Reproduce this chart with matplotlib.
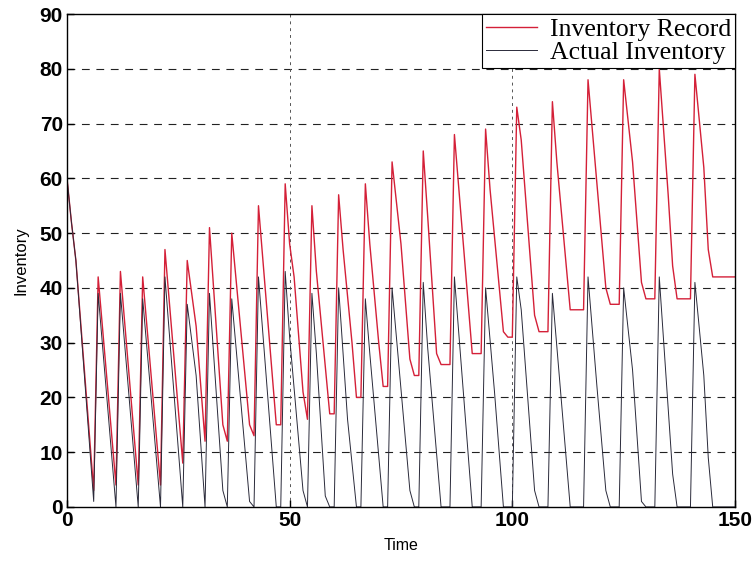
import matplotlib
matplotlib.use("Agg")
import matplotlib.pyplot as plt

# vertices (time, inventory)
record_t = [0, 1, 2, 6, 7, 11, 12, 16, 17, 21, 22, 26,
            27, 29, 31, 32, 35, 36, 37, 41, 42, 43, 47, 48,
            49, 50, 51, 53, 54, 55, 56, 59, 60, 61, 62, 64, 65, 66,
            67, 68, 70, 71, 72, 73, 75, 77, 78, 79, 80, 81, 83, 84, 86,
            87, 91, 93, 94, 95, 98, 99, 100, 101, 102, 105, 106, 108,
            109, 110, 113, 116, 117, 119, 121, 122, 124, 125, 127, 129, 130, 132,
            133, 135, 136, 137, 140, 141, 143, 144, 145, 150]
record_v = [60, 52, 45, 3, 42, 4, 43, 4, 42, 4, 47, 8,
            45, 33, 12, 51, 15, 12, 50, 15, 13, 55, 15, 15,
            59, 48, 42, 21, 16, 55, 43, 17, 17, 57, 47, 30, 20, 20,
            59, 48, 30, 22, 22, 63, 48, 27, 24, 24, 65, 53, 28, 26, 26,
            68, 28, 28, 69, 58, 32, 31, 31, 73, 67, 35, 32, 32,
            74, 63, 36, 36, 78, 59, 40, 37, 37, 78, 63, 41, 38, 38,
            80, 57, 44, 38, 38, 79, 62, 47, 42, 42]

actual_t = [0, 1, 2, 6, 7, 11, 12, 16, 17, 21, 22, 26,
            27, 29, 31, 32, 35, 36, 37, 41, 42, 43, 47, 48,
            49, 50, 53, 54, 55, 56, 58, 59, 60, 61, 63, 65, 66,
            67, 68, 71, 72, 73, 77, 78, 79, 80, 81, 84, 86,
            87, 91, 93, 94, 96, 98, 100, 101, 102, 105, 106, 108,
            109, 113, 116, 117, 119, 121, 122, 124, 125, 127, 129, 130, 132,
            133, 136, 137, 140, 141, 143, 144, 145, 150]
actual_v = [60, 52, 45, 1, 39, 0, 39, 0, 38, 0, 42, 0,
            37, 24, 0, 39, 3, 0, 38, 1, 0, 42, 0, 0,
            43, 31, 3, 0, 39, 28, 2, 0, 0, 40, 16, 0, 0,
            38, 28, 0, 0, 40, 3, 0, 0, 41, 29, 0, 0,
            42, 0, 0, 40, 21, 0, 0, 42, 36, 3, 0, 0,
            39, 0, 0, 42, 22, 3, 0, 0, 40, 25, 1, 0, 0,
            42, 6, 0, 0, 41, 24, 9, 0, 0]

fig = plt.figure(figsize=(7.56, 5.62), dpi=100)
ax = fig.add_axes([0.0886, 0.098, 0.8836, 0.877])

ax.plot(record_t, record_v, color="#d42038", lw=1.0, label="Inventory Record")
ax.plot(actual_t, actual_v, color="#2a2a3a", lw=0.7, label="Actual Inventory")

ax.set_xlim(0, 150)
ax.set_ylim(0, 90)
ax.set_xticks([0, 50, 100, 150])
ax.set_yticks(range(0, 91, 10))

for y in range(10, 90, 10):
    ax.axhline(y, color="#222222", lw=0.8, ls=(0, (7, 6)), zorder=0)
for x in [50, 100]:
    ax.axvline(x, color="#555555", lw=0.7, ls=(0, (3, 4)), zorder=0)

ax.tick_params(direction="in", length=5, width=1, labelsize=15, pad=3)
for lab in ax.get_xticklabels() + ax.get_yticklabels():
    lab.set_fontweight("bold")
    lab.set_family("Liberation Sans")

ax.set_xlabel("Time", fontsize=11.5, family="Liberation Sans", labelpad=6)
ax.set_ylabel("Inventory", fontsize=12, family="Liberation Sans", labelpad=8)

for s in ax.spines.values():
    s.set_linewidth(1.0)

leg = ax.legend(loc="upper right", borderaxespad=0, fancybox=False,
                framealpha=1, edgecolor="black", handlelength=2.0,
                prop={"family": "Liberation Serif", "size": 18.5},
                borderpad=0.15, labelspacing=0.0, handletextpad=0.5)
leg.get_frame().set_linewidth(0.8)

fig.savefig("out.png", dpi=100)
